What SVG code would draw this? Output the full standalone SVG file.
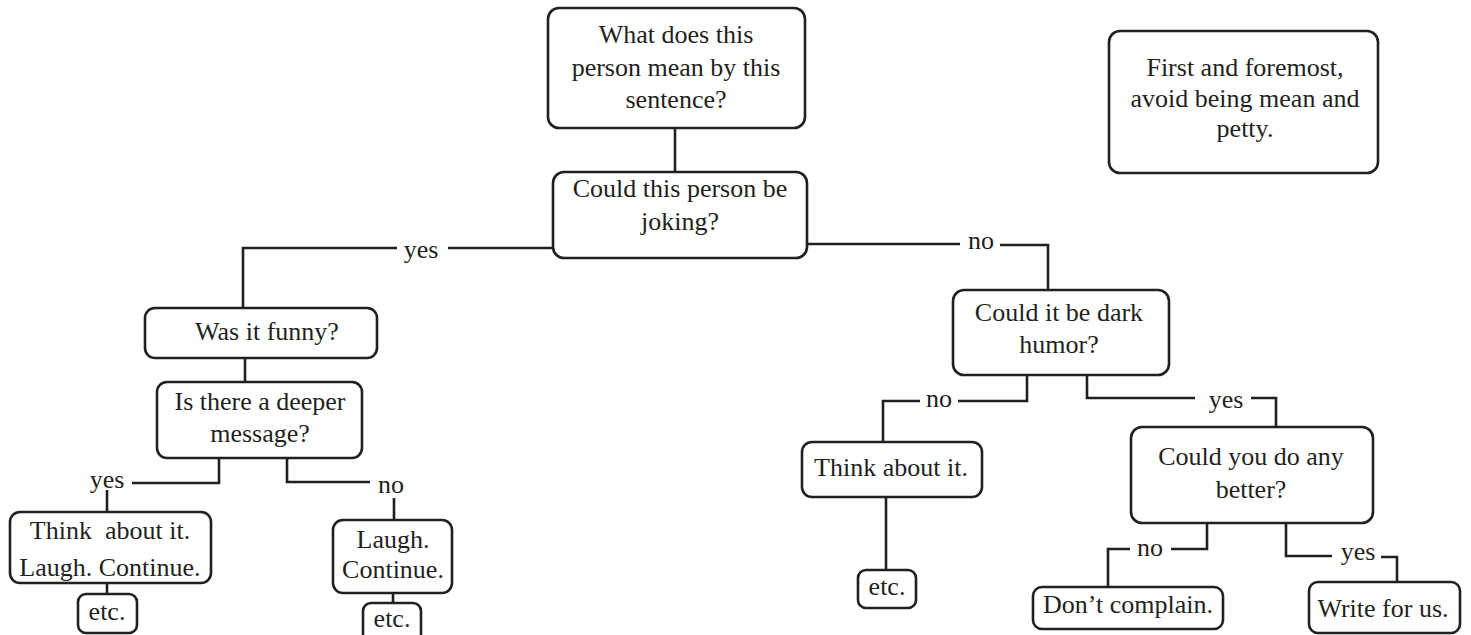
<svg xmlns="http://www.w3.org/2000/svg" width="1471" height="635" viewBox="0 0 1471 635">
<style>
.box{fill:#fff;stroke:#231f20;stroke-width:2.6}
.ln{fill:none;stroke:#231f20;stroke-width:2.6}
text{font-family:"Liberation Serif","Times New Roman",serif;font-size:26px;fill:#231f20;text-anchor:middle}
</style>
<rect width="1471" height="635" fill="#fff"/>
<g id="connectors">
<path class="ln" d="M675 128V172"/>
<path class="ln" d="M553 248H448M397 248H243V308"/>
<path class="ln" d="M245 358V382"/>
<path class="ln" d="M219 458V483H132M107 490V512"/>
<path class="ln" d="M287 458V482H370M394 498V520"/>
<path class="ln" d="M107 583V594"/>
<path class="ln" d="M393 593V603"/>
<path class="ln" d="M807 244H960M1000 245H1048V290"/>
<path class="ln" d="M1027 375V401H958M920 401H883V442"/>
<path class="ln" d="M886 497V570"/>
<path class="ln" d="M1087 375V398H1195M1251 398H1276V427"/>
<path class="ln" d="M1207 523V549H1171M1130 549H1108V587"/>
<path class="ln" d="M1286 523V556H1332M1381 557H1397V582"/>
<text x="421" y="258">yes</text>
<text x="107" y="488">yes</text>
<text x="391" y="493">no</text>
<text x="981" y="249">no</text>
<text x="939" y="407">no</text>
<text x="1226" y="408">yes</text>
<text x="1150" y="556">no</text>
<text x="1358" y="560">yes</text>
</g>
<g id="n1"><rect class="box" x="548" y="8" width="257" height="120" rx="11"/><text x="676" y="43">What does this</text><text x="676" y="76">person mean by this</text><text x="676" y="108">sentence?</text></g>
<g id="n2"><rect class="box" x="553" y="172" width="254" height="86" rx="11"/><text x="680" y="197">Could this person be</text><text x="680" y="230">joking?</text></g>
<g id="n_note"><rect class="box" x="1109" y="31" width="269" height="142" rx="11"/><text x="1245" y="76">First and foremost,</text><text x="1245" y="107">avoid being mean and</text><text x="1245" y="137">petty.</text></g>
<g id="n_funny"><rect class="box" x="145" y="308" width="232" height="50" rx="10"/><text x="267" y="340">Was it funny?</text></g>
<g id="n_deeper"><rect class="box" x="157" y="382" width="205" height="76" rx="10"/><text x="260" y="410">Is there a deeper</text><text x="260" y="442">message?</text></g>
<g id="n_ta"><rect class="box" x="10" y="512" width="201" height="71" rx="10"/><text x="110" y="539" xml:space="preserve">Think  about it.</text><text x="110" y="576">Laugh. Continue.</text></g>
<g id="n_etc1"><rect class="box" x="78" y="594" width="59" height="39" rx="8"/><text x="107" y="620">etc.</text></g>
<g id="n_lc"><rect class="box" x="333" y="520" width="119" height="73" rx="10"/><text x="393" y="548">Laugh.</text><text x="393" y="578">Continue.</text></g>
<g id="n_etc2"><rect class="box" x="363" y="603" width="58" height="42" rx="8"/><text x="392" y="627">etc.</text></g>
<g id="n_dark"><rect class="box" x="953" y="290" width="216" height="85" rx="11"/><text x="1059" y="321">Could it be dark</text><text x="1059" y="353">humor?</text></g>
<g id="n_think"><rect class="box" x="802" y="442" width="180" height="55" rx="10"/><text x="891" y="476">Think about it.</text></g>
<g id="n_etc3"><rect class="box" x="858" y="570" width="58" height="38" rx="8"/><text x="887" y="595">etc.</text></g>
<g id="n_better"><rect class="box" x="1131" y="427" width="242" height="96" rx="11"/><text x="1251" y="465">Could you do any</text><text x="1251" y="498">better?</text></g>
<g id="n_dont"><rect class="box" x="1033" y="587" width="190" height="42" rx="9"/><text x="1128" y="613">Don’t complain.</text></g>
<g id="n_write"><rect class="box" x="1309" y="582" width="151" height="51" rx="9"/><text x="1383" y="617">Write for us.</text></g>
</svg>
